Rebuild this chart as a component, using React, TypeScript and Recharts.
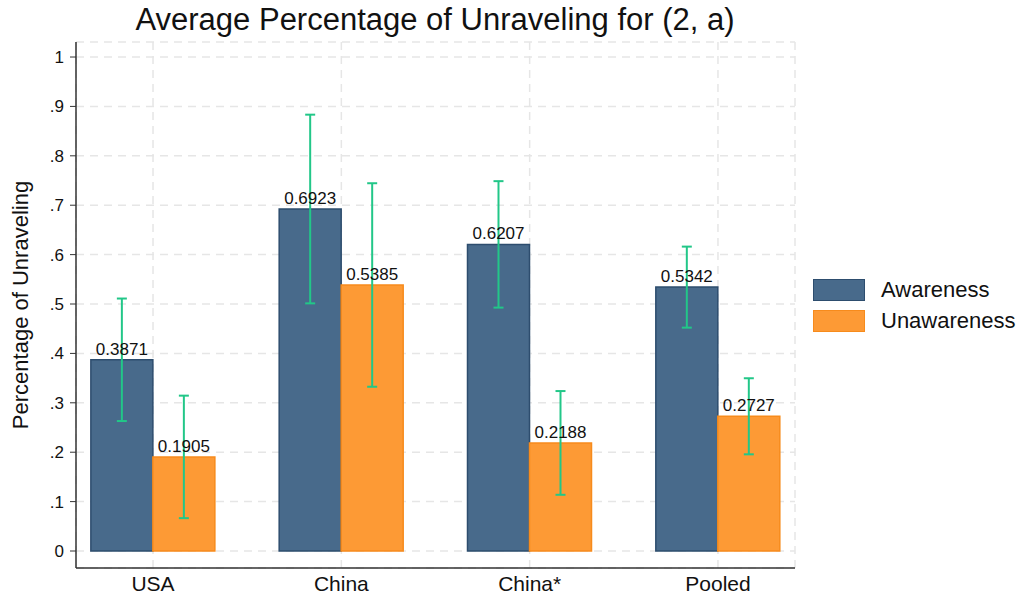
import { ComposedChart, Bar, XAxis, YAxis, CartesianGrid, ErrorBar, LabelList } from "recharts";

const CATEGORIES = ["USA", "China", "China*", "Pooled"];
const AWARENESS = [0.3871, 0.6923, 0.6207, 0.5342];
const UNAWARENESS = [0.1905, 0.5385, 0.2188, 0.2727];
const AWARENESS_ERR = [0.124, 0.191, 0.128, 0.082];
const UNAWARENESS_ERR = [0.124, 0.206, 0.105, 0.077];
const Y_TICKS = [0, 0.1, 0.2, 0.3, 0.4, 0.5, 0.6, 0.7, 0.8, 0.9, 1];

const BLUE = "#486a8b";
const BLUE_EDGE = "#2d4d6e";
const ORANGE = "#fd9a35";
const ORANGE_EDGE = "#f78b1c";
const ERR = "#22c788";
const FONT = "'Liberation Sans', Arial, sans-serif";

const data = CATEGORIES.map((name, i) => ({
  idx: i,
  name,
  awareness: AWARENESS[i],
  unawareness: UNAWARENESS[i],
  awarenessErr: AWARENESS_ERR[i],
  unawarenessErr: UNAWARENESS_ERR[i],
}));

const fmtY = (v: number) => (v === 0 ? "0" : v === 1 ? "1" : "." + Math.round(v * 10));

const YLabel = ({ viewBox }: any) => {
  const x = 20;
  const y = viewBox.y + viewBox.height / 2;
  return (
    <text
      x={x}
      y={y}
      transform={`rotate(-90, ${x}, ${y})`}
      textAnchor="middle"
      dominantBaseline="central"
      fontSize={22}
      fill="#111"
      fontFamily={FONT}
    >
      Percentage of Unraveling
    </text>
  );
};

const legendItems = [
  { label: "Awareness", fill: BLUE, edge: BLUE_EDGE },
  { label: "Unawareness", fill: ORANGE, edge: ORANGE_EDGE },
];

export default function App() {
  return (
    <div
      style={{
        position: "absolute",
        left: 0,
        top: 0,
        width: 1021,
        height: 595,
        background: "#fff",
        fontFamily: FONT,
      }}
    >
      <div
        style={{
          position: "absolute",
          left: 0,
          width: 870,
          top: 2,
          textAlign: "center",
          fontSize: 31,
          color: "#111",
        }}
      >
        Average Percentage of Unraveling for (2, a)
      </div>
      <ComposedChart
        width={1021}
        height={595}
        data={data}
        margin={{ top: 42, right: 226, bottom: 0, left: 10 }}
        barGap={0}
        barSize={62}
      >
        <CartesianGrid stroke="#e6e6e6" strokeWidth={1.5} strokeDasharray="8 6" />
        <XAxis
          type="number"
          dataKey="idx"
          domain={[-0.409, 3.409]}
          ticks={[0, 1, 2, 3]}
          interval={0}
          allowDataOverflow
          tickFormatter={(i: number) => CATEGORIES[i]}
          axisLine={{ stroke: "#333", strokeWidth: 1.5 }}
          tickLine={false}
          tickSize={0}
          tickMargin={8}
          tick={{ fontSize: 21, fill: "#111", fontFamily: FONT }}
          height={27}
        />
        <YAxis
          type="number"
          domain={[-0.0344, 1.0304]}
          ticks={Y_TICKS}
          interval={0}
          allowDataOverflow
          tickFormatter={fmtY}
          axisLine={{ stroke: "#333", strokeWidth: 1.5 }}
          tickLine={{ stroke: "#333" }}
          tickSize={6}
          tickMargin={6}
          tick={{ fontSize: 17, fill: "#111", fontFamily: FONT }}
          width={66}
          label={{ content: YLabel }}
        />
        <Bar dataKey="awareness" fill={BLUE} stroke={BLUE_EDGE} strokeWidth={1.5} isAnimationActive={false}>
          <LabelList
            dataKey="awareness"
            position="top"
            offset={5}
            formatter={(v: any) => Number(v).toFixed(4)}
            style={{ fontSize: 17, fill: "#111", fontFamily: FONT }}
          />
          <ErrorBar dataKey="awarenessErr" width={5} stroke={ERR} strokeWidth={2} direction="y" />
        </Bar>
        <Bar dataKey="unawareness" fill={ORANGE} stroke={ORANGE_EDGE} strokeWidth={1.5} isAnimationActive={false}>
          <LabelList
            dataKey="unawareness"
            position="top"
            offset={5}
            formatter={(v: any) => Number(v).toFixed(4)}
            style={{ fontSize: 17, fill: "#111", fontFamily: FONT }}
          />
          <ErrorBar dataKey="unawarenessErr" width={5} stroke={ERR} strokeWidth={2} direction="y" />
        </Bar>
      </ComposedChart>
      <div style={{ position: "absolute", left: 813, top: 274 }}>
        {legendItems.map((it) => (
          <div key={it.label} style={{ display: "flex", alignItems: "center", height: 31 }}>
            <div
              style={{
                width: 50,
                height: 20,
                background: it.fill,
                border: `1.5px solid ${it.edge}`,
                marginRight: 16,
              }}
            />
            <span style={{ fontSize: 22, color: "#111" }}>{it.label}</span>
          </div>
        ))}
      </div>
    </div>
  );
}
